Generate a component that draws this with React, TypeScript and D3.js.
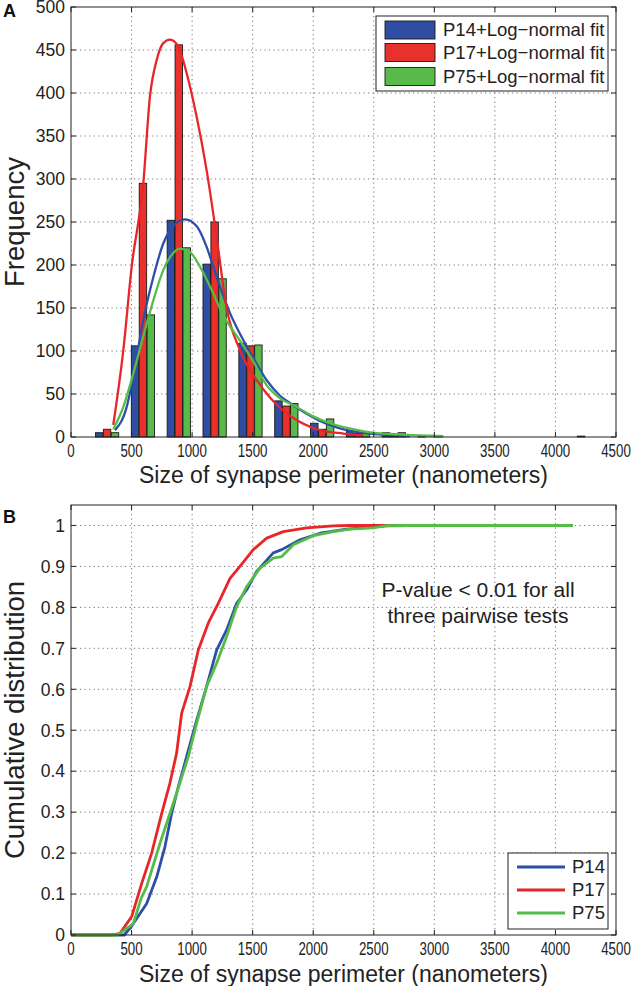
import React from 'react';
import * as d3 from 'd3';

// ---------- data ----------
const seriesNames = ['P14', 'P17', 'P75'];
const histLegendLabels = ['P14+Log\u2212normal fit', 'P17+Log\u2212normal fit', 'P75+Log\u2212normal fit'];
const cdfLegendLabels = ['P14', 'P17', 'P75'];

const binCenters = [298, 594, 890, 1186, 1482, 1778, 2074, 2370, 2666, 2962, 3258, 3554, 3850, 4146];
const p14Counts = [5, 106, 252, 201, 109, 42, 16, 7, 5, 1, 0, 0, 0, 0];
const p17Counts = [9, 295, 456, 250, 106, 36, 9, 4, 1, 0, 0, 0, 0, 0];
const p75Counts = [5, 142, 220, 184, 107, 39, 21, 4, 5, 1, 0, 0, 0, 1];

const p14Fit: [number, number][] = [
  [363, 8], [460, 35], [528, 82], [597, 136], [680, 186], [762, 225], [831, 243], [941, 253],
  [1038, 245], [1120, 221], [1175, 198], [1230, 175], [1313, 144], [1395, 120], [1505, 92],
  [1616, 66], [1726, 48], [1836, 37], [1946, 27], [2050, 19], [2200, 11], [2400, 5], [2600, 2.5], [2800, 1],
];
const p17Fit: [number, number][] = [
  [349, 14], [432, 101], [501, 198], [597, 295], [652, 396], [707, 438], [762, 458], [817, 462],
  [886, 454], [955, 423], [1038, 372], [1120, 310], [1203, 232], [1285, 150], [1395, 101],
  [1533, 66], [1643, 46], [1726, 34], [1836, 22], [2029, 9], [2249, 4], [2414, 2],
];
const p75Fit: [number, number][] = [
  [349, 9], [432, 35], [515, 74], [597, 117], [680, 159], [762, 194], [845, 214], [900, 219],
  [983, 215], [1065, 198], [1148, 175], [1210, 156], [1240, 146], [1272, 138], [1395, 112], [1505, 88],
  [1616, 60], [1726, 45], [1863, 35], [2000, 24], [2139, 16], [2300, 10], [2441, 6], [2700, 3], [3075, 1],
];

const p14Cdf: [number, number][] = [
  [0, 0], [440, 0], [501, 0.022], [625, 0.077], [708, 0.142], [776, 0.216], [831, 0.297], [886, 0.362],
  [955, 0.436], [1038, 0.525], [1120, 0.607], [1203, 0.696], [1285, 0.745], [1368, 0.81], [1451, 0.843],
  [1533, 0.888], [1670, 0.933], [1740, 0.941], [1891, 0.965], [2056, 0.981], [2276, 0.991], [2600, 0.999], [2800, 1],
];
const p17Cdf: [number, number][] = [
  [0, 0], [349, 0], [405, 0.004], [501, 0.045], [584, 0.126], [666, 0.2], [749, 0.297], [817, 0.371],
  [872, 0.444], [914, 0.542], [983, 0.607], [1051, 0.696], [1134, 0.762], [1216, 0.81], [1313, 0.871],
  [1395, 0.9], [1505, 0.941], [1616, 0.969], [1753, 0.985], [1946, 0.994], [2166, 0.999], [2300, 1], [2772, 1],
];
const p75Cdf: [number, number][] = [
  [0, 0], [380, 0], [405, 0.004], [515, 0.028], [580, 0.09], [625, 0.118], [735, 0.224], [872, 0.346],
  [969, 0.436], [1038, 0.517], [1120, 0.607], [1203, 0.664], [1285, 0.729], [1368, 0.802], [1451, 0.851],
  [1561, 0.896], [1670, 0.92], [1740, 0.924], [1836, 0.953], [2001, 0.975], [2166, 0.985], [2304, 0.991],
  [2496, 0.994], [2607, 0.9995], [2700, 1], [4145, 1],
];

const xTicks = [0, 500, 1000, 1500, 2000, 2500, 3000, 3500, 4000, 4500];
const freqTicks = [0, 50, 100, 150, 200, 250, 300, 350, 400, 450, 500];
const cdfTicks = [0, 0.1, 0.2, 0.3, 0.4, 0.5, 0.6, 0.7, 0.8, 0.9, 1];

const xLabel = 'Size of synapse perimeter (nanometers)';
const freqLabel = 'Frequency';
const cdfLabel = 'Cumulative distribution';
const noteLines = ['P-value < 0.01 for all', 'three pairwise tests'];

// ---------- style ----------
const W = 638;
const H = 986;
const FONT = '"Liberation Sans", Arial, Helvetica, sans-serif';
const fillColors = ['#2f4ea3', '#e8302c', '#58ba48'];
const lineColors = ['#2e4ea8', '#e8262a', '#55bd47'];

const L = 71, R = 616;
const topBox = { t: 7, b: 437 };
const botBox = { t: 505, b: 935 };

const fmtCdf = (v: number) => (v === 0 ? '0' : v === 1 ? '1' : d3.format('.1f')(v));

function Frame({ x, y, xt, yt, yFmt, top, bottom }: any) {
  const tickLen = 5;
  return (
    <g>
      {xt.map((t: number) => (
        <g key={'xt' + t}>
          <line x1={x(t)} x2={x(t)} y1={bottom} y2={bottom - tickLen} stroke="#222" />
          <line x1={x(t)} x2={x(t)} y1={top} y2={top + tickLen} stroke="#222" />
          <text
            x={x(t)}
            y={bottom + 20}
            textAnchor="middle"
            fontSize={17.5}
            textLength={String(t).length * 7.4}
            lengthAdjust="spacingAndGlyphs"
            fill="#222"
          >
            {String(t)}
          </text>
        </g>
      ))}
      {yt.map((t: number) => (
        <g key={'yt' + t}>
          <line x1={L} x2={L + tickLen} y1={y(t)} y2={y(t)} stroke="#222" />
          <line x1={R} x2={R - tickLen} y1={y(t)} y2={y(t)} stroke="#222" />
          <text x={L - 6} y={y(t)} dy="0.36em" textAnchor="end" fontSize={17.5} fill="#222">
            {yFmt(t)}
          </text>
        </g>
      ))}
      <rect x={L} y={top} width={R - L} height={bottom - top} fill="none" stroke="#222" strokeWidth={1} />
    </g>
  );
}

function Grid({ x, y, xt, yt, top, bottom }: any) {
  const dash = '1.2,3.3';
  return (
    <g stroke="#666" strokeWidth={0.9} strokeDasharray={dash}>
      {xt.filter((t: number) => x(t) > L + 1 && x(t) < R - 1).map((t: number) => (
        <line key={'gx' + t} x1={x(t)} x2={x(t)} y1={top} y2={bottom} />
      ))}
      {yt.filter((t: number) => y(t) > top + 1 && y(t) < bottom - 1).map((t: number) => (
        <line key={'gy' + t} x1={L} x2={R} y1={y(t)} y2={y(t)} />
      ))}
    </g>
  );
}

export default function App() {
  const x = d3.scaleLinear().domain([0, 4500]).range([L, R]);
  const yF = d3.scaleLinear().domain([0, 500]).range([topBox.b, topBox.t]);
  const yC = d3.scaleLinear().domain([0, 1.05]).range([botBox.b, botBox.t]);

  const inner = d3.scaleBand<string>().domain(seriesNames).range([-96, 96]).paddingInner(0.06);
  const counts = [p14Counts, p17Counts, p75Counts];
  const fits = [p14Fit, p17Fit, p75Fit];
  const cdfs = [p14Cdf, p17Cdf, p75Cdf];

  const fitLine = d3
    .line<[number, number]>()
    .x((d) => x(d[0]))
    .y((d) => yF(d[1]))
    .curve(d3.curveMonotoneX);
  const cdfLine = d3
    .line<[number, number]>()
    .x((d) => x(d[0]))
    .y((d) => yC(d[1]))
    .curve(d3.curveLinear);

  return (
    <svg
      width={W}
      height={H}
      viewBox={`0 0 ${W} ${H}`}
      style={{ position: 'absolute', left: 0, top: 0, background: '#fff', fontFamily: FONT }}
    >
      <rect x={0} y={0} width={W} height={H} fill="#fff" />

      {/* ---------- Panel A ---------- */}
      <Grid x={x} y={yF} xt={xTicks} yt={freqTicks} top={topBox.t} bottom={topBox.b} />
      <g>
        {seriesNames.map((name, si) =>
          binCenters.map((c, bi) => {
            const v = counts[si][bi];
            if (!v) return null;
            const x0 = x(c + (inner(name) as number));
            const x1 = x(c + (inner(name) as number) + inner.bandwidth());
            return (
              <rect
                key={name + bi}
                x={x0}
                y={yF(v)}
                width={x1 - x0}
                height={yF(0) - yF(v)}
                fill={fillColors[si]}
                stroke="#1a1a1a"
                strokeWidth={0.9}
              />
            );
          })
        )}
      </g>
      <g fill="none">
        {fits.map((f, i) => (
          <path key={'fit' + i} d={fitLine(f) || ''} stroke={lineColors[i]} strokeWidth={2.3} />
        ))}
      </g>
      <Frame x={x} y={yF} xt={xTicks} yt={freqTicks} yFmt={(t: number) => String(t)} top={topBox.t} bottom={topBox.b} />
      <text x={(L + R) / 2} y={topBox.b + 45.5} textAnchor="middle" fontSize={23} fill="#222">
        {xLabel}
      </text>
      <text
        transform={`translate(24,${(topBox.t + topBox.b) / 2}) rotate(-90)`}
        textAnchor="middle"
        fontSize={27.5}
        fill="#222"
      >
        {freqLabel}
      </text>
      <text x={3} y={17} fontSize={18} fontWeight="bold" fill="#111">A</text>

      {/* legend A */}
      <g>
        <rect x={376} y={16} width={232} height={75} fill="#fff" stroke="#222" strokeWidth={1} />
        {histLegendLabels.map((lab, i) => {
          const cy = [30, 52.5, 76.5][i];
          return (
            <g key={lab}>
              <rect x={385} y={cy - 9} width={50} height={18} fill={fillColors[i]} stroke="#1a1a1a" strokeWidth={0.9} />
              <text x={443} y={cy} dy="0.35em" fontSize={18.5} fill="#222">
                {lab}
              </text>
            </g>
          );
        })}
      </g>

      {/* ---------- Panel B ---------- */}
      <Grid x={x} y={yC} xt={xTicks} yt={cdfTicks} top={botBox.t} bottom={botBox.b} />
      <g fill="none" strokeLinejoin="round">
        {cdfs.map((c, i) => (
          <path key={'cdf' + i} d={cdfLine(c) || ''} stroke={lineColors[i]} strokeWidth={2.8} />
        ))}
      </g>
      <Frame x={x} y={yC} xt={xTicks} yt={cdfTicks} yFmt={fmtCdf} top={botBox.t} bottom={botBox.b} />
      <text x={(L + R) / 2} y={botBox.b + 46.5} textAnchor="middle" fontSize={23} fill="#222">
        {xLabel}
      </text>
      <text
        transform={`translate(24,${(botBox.t + botBox.b) / 2}) rotate(-90)`}
        textAnchor="middle"
        fontSize={27.5}
        fill="#222"
      >
        {cdfLabel}
      </text>
      <text x={3} y={523} fontSize={18} fontWeight="bold" fill="#111">B</text>

      {noteLines.map((t, i) => (
        <text key={t} x={478} y={[596.5, 623][i]} textAnchor="middle" fontSize={21} fill="#222">
          {t}
        </text>
      ))}

      {/* legend B */}
      <g>
        <rect x={508} y={853} width={100} height={76} fill="#fff" stroke="#222" strokeWidth={1} />
        {cdfLegendLabels.map((lab, i) => {
          const cy = [867, 890, 913][i];
          return (
            <g key={lab}>
              <line x1={517} x2={565} y1={cy} y2={cy} stroke={lineColors[i]} strokeWidth={2.8} />
              <text x={572} y={cy} dy="0.35em" fontSize={18.5} fill="#222">
                {lab}
              </text>
            </g>
          );
        })}
      </g>
    </svg>
  );
}
